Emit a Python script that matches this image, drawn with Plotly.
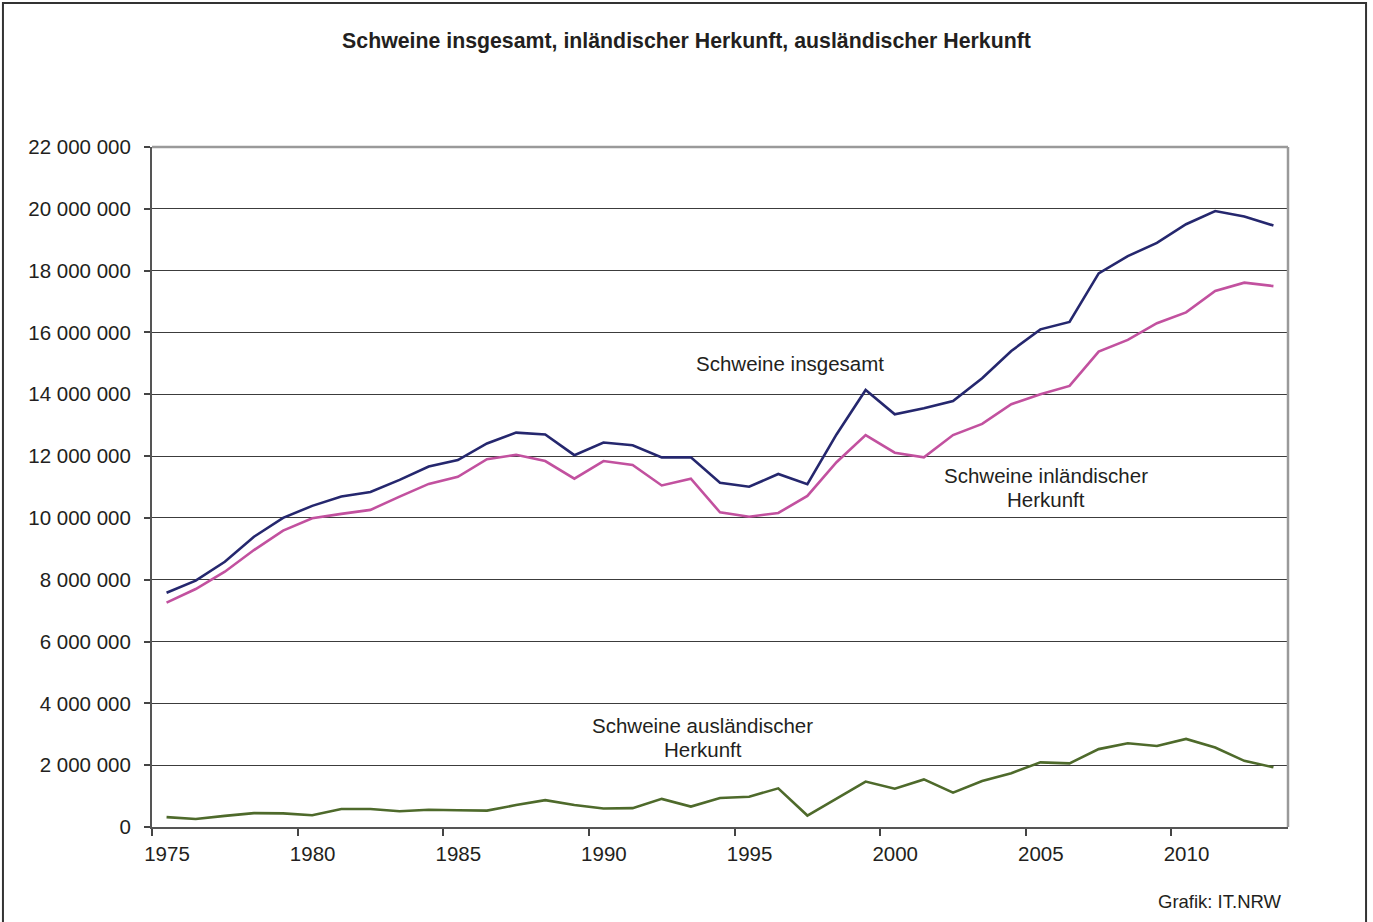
import plotly.graph_objects as go

# Schweinebestand, jährliche Werte 1975-2013
years = list(range(1975, 2014))

total = [7.58, 7.97, 8.58, 9.39, 10.00, 10.39, 10.69, 10.84, 11.23, 11.66,
         11.87, 12.41, 12.76, 12.70, 12.03, 12.44, 12.35, 11.96, 11.96, 11.14,
         11.01, 11.42, 11.09, 12.70, 14.14, 13.35, 13.55, 13.78, 14.52, 15.40,
         16.10, 16.34, 17.91, 18.47, 18.90, 19.50, 19.93, 19.75, 19.46]

domestic = [7.26, 7.70, 8.26, 8.96, 9.59, 9.99, 10.13, 10.26, 10.69, 11.10,
            11.33, 11.90, 12.04, 11.84, 11.27, 11.84, 11.71, 11.05, 11.27, 10.18,
            10.04, 10.16, 10.71, 11.80, 12.68, 12.11, 11.96, 12.68, 13.04, 13.68,
            14.00, 14.27, 15.38, 15.76, 16.30, 16.65, 17.34, 17.61, 17.50]

foreign = [0.32, 0.26, 0.36, 0.45, 0.44, 0.38, 0.58, 0.58, 0.51, 0.56,
           0.54, 0.53, 0.71, 0.87, 0.71, 0.60, 0.61, 0.91, 0.66, 0.94,
           0.98, 1.25, 0.37, 0.92, 1.47, 1.24, 1.54, 1.11, 1.49, 1.74,
           2.09, 2.06, 2.52, 2.71, 2.62, 2.85, 2.57, 2.14, 1.93]

label_years = [1975, 1980, 1985, 1990, 1995, 2000, 2005, 2010]
y_ticks = list(range(0, 22_000_001, 2_000_000))

FONT = "Arial, Liberation Sans, sans-serif"
TEXT = "#231f20"


def mio(values):
    return [v * 1_000_000 for v in values]


fig = go.Figure()
fig.add_trace(go.Scatter(x=years, y=mio(total), mode="lines",
                         line=dict(color="#25276e", width=2.6),
                         name="Schweine insgesamt"))
fig.add_trace(go.Scatter(x=years, y=mio(domestic), mode="lines",
                         line=dict(color="#c2519f", width=2.6),
                         name="Schweine inländischer Herkunft"))
fig.add_trace(go.Scatter(x=years, y=mio(foreign), mode="lines",
                         line=dict(color="#4e6a2b", width=2.6),
                         name="Schweine ausländischer Herkunft"))

# Excel-like category axis: tick marks between categories, labels centered
fig.update_xaxes(
    range=[1974.5, 2013.5],
    tickvals=[y - 0.5 for y in label_years],
    ticktext=[str(y) for y in label_years],
    ticklabelshift=15,
    ticks="outside", ticklen=7, tickwidth=1.5, tickcolor="#444",
    showgrid=False, zeroline=False,
    showline=True, linecolor="#555", linewidth=2,
    tickfont=dict(size=20.5, color=TEXT, family=FONT),
)
fig.update_yaxes(
    range=[0, 22_000_000],
    tickvals=y_ticks,
    tickformat=",d",
    ticks="outside", ticklen=6, tickwidth=1.5, tickcolor="#444",
    ticklabelstandoff=9,
    showgrid=True, gridcolor="#3c3c3c", gridwidth=1,
    zeroline=False,
    showline=True, linecolor="#555", linewidth=2,
    tickfont=dict(size=20.5, color=TEXT, family=FONT),
)

# series labels, one annotation per text line (Excel line spacing is tighter)
annots = [
    (1996.4, 14_980_000, ["Schweine insgesamt"]),
    (2005.2, 11_000_000, ["Schweine inländischer", "Herkunft"]),
    (1993.4, 2_910_000, ["Schweine ausländischer", "Herkunft"]),
]
for x, y, lines in annots:
    n = len(lines)
    for i, line in enumerate(lines):
        fig.add_annotation(x=x, y=y, text=line, xref="x", yref="y",
                           yshift=((n - 1) / 2 - i) * 24, showarrow=False,
                           font=dict(size=20.5, color=TEXT, family=FONT))

fig.add_annotation(text="Grafik: IT.NRW", xref="paper", yref="paper",
                   x=0.9965, y=-0.110, xanchor="right", yanchor="middle",
                   showarrow=False, font=dict(size=18.5, color=TEXT, family=FONT))

# plot frame (top/right in light grey) and outer border of the graphic
fig.add_shape(type="line", xref="paper", yref="paper", x0=0, x1=1, y0=1, y1=1,
              line=dict(color="#9a9a9a", width=2.5))
fig.add_shape(type="line", xref="paper", yref="paper", x0=1, x1=1, y0=0, y1=1,
              line=dict(color="#9a9a9a", width=2.5))
fig.add_shape(type="rect", xref="paper", yref="paper",
              x0=-0.1312, x1=1.0687, y0=-0.16, y1=1.2118,
              line=dict(color="#333", width=2))

fig.update_layout(
    width=1373, height=922,
    margin=dict(l=152, r=85, t=147, b=95),
    separators=", ",
    paper_bgcolor="white", plot_bgcolor="white",
    showlegend=False,
    font=dict(family=FONT, color=TEXT),
    title=dict(text="<b>Schweine insgesamt, inländischer Herkunft, ausländischer Herkunft</b>",
               x=0.5, xref="container", xanchor="center",
               y=1 - 41 / 922, yref="container", yanchor="middle",
               font=dict(size=21.3, color=TEXT, family=FONT)),
)

fig.write_html("out.html", config={"displayModeBar": False},
               post_script="document.body.style.margin='0';")
